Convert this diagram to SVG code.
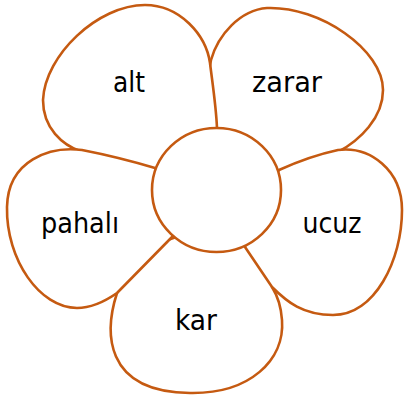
<svg xmlns="http://www.w3.org/2000/svg" width="404" height="399" viewBox="0 0 404 399">
<style>
.p{fill:#fff;stroke:#c55a11;stroke-width:2.6;stroke-linejoin:round}
.t{font-family:"DejaVu Sans",Verdana,sans-serif;font-size:28px;fill:#000;text-anchor:middle}
</style>
<rect width="404" height="399" fill="#fff"/>
<g id="petal-kar">
<path class="p" d="M190,232 L140,250 L117,293 C105,330 102,392 190,393 C250,394 285,360 282,320 C281,305 277,295 272,287 L290,250 L240,230 Z"/>
<text class="t" x="196" y="330" textLength="42" lengthAdjust="spacingAndGlyphs">kar</text>
</g>
<g id="petal-zarar">
<path class="p" d="M215,170 L200,120 L211,60 C218,35 240,10 267,8 C320,6 383,50 383,90 C383,118 360,140 338,152 L260,185 Z"/>
<text class="t" x="287" y="92" textLength="70" lengthAdjust="spacingAndGlyphs">zarar</text>
</g>
<g id="petal-alt">
<path class="p" d="M217,145 L217,128 C216,105 212,80 210,63 C206,35 180,5 145,5 C98,5 45,55 43,100 C43,128 62,145 82,152 L175,185 Z"/>
<text class="t" x="129" y="92" textLength="32" lengthAdjust="spacingAndGlyphs">alt</text>
</g>
<g id="petal-ucuz">
<path class="p" d="M260,200 L279,170 Q310,156 338,150 C370,146 402,170 402,210 C402,260 375,315 333,315 C303,315 287,302 272,287 L245,247 Z"/>
<text class="t" x="332" y="233" textLength="59" lengthAdjust="spacingAndGlyphs">ucuz</text>
</g>
<g id="petal-pahali">
<path class="p" d="M190,200 L155,168 Q118,157 82,150 C50,146 8,160 7,207 C6,260 40,308 77,308 C92,308 107,300 117,293 L172,237 Z"/>
<text class="t" x="80" y="233" textLength="78" lengthAdjust="spacingAndGlyphs">pahalı</text>
</g>
<g id="center">
<ellipse class="p" cx="216.5" cy="190" rx="64.5" ry="62"/>
</g>
</svg>
